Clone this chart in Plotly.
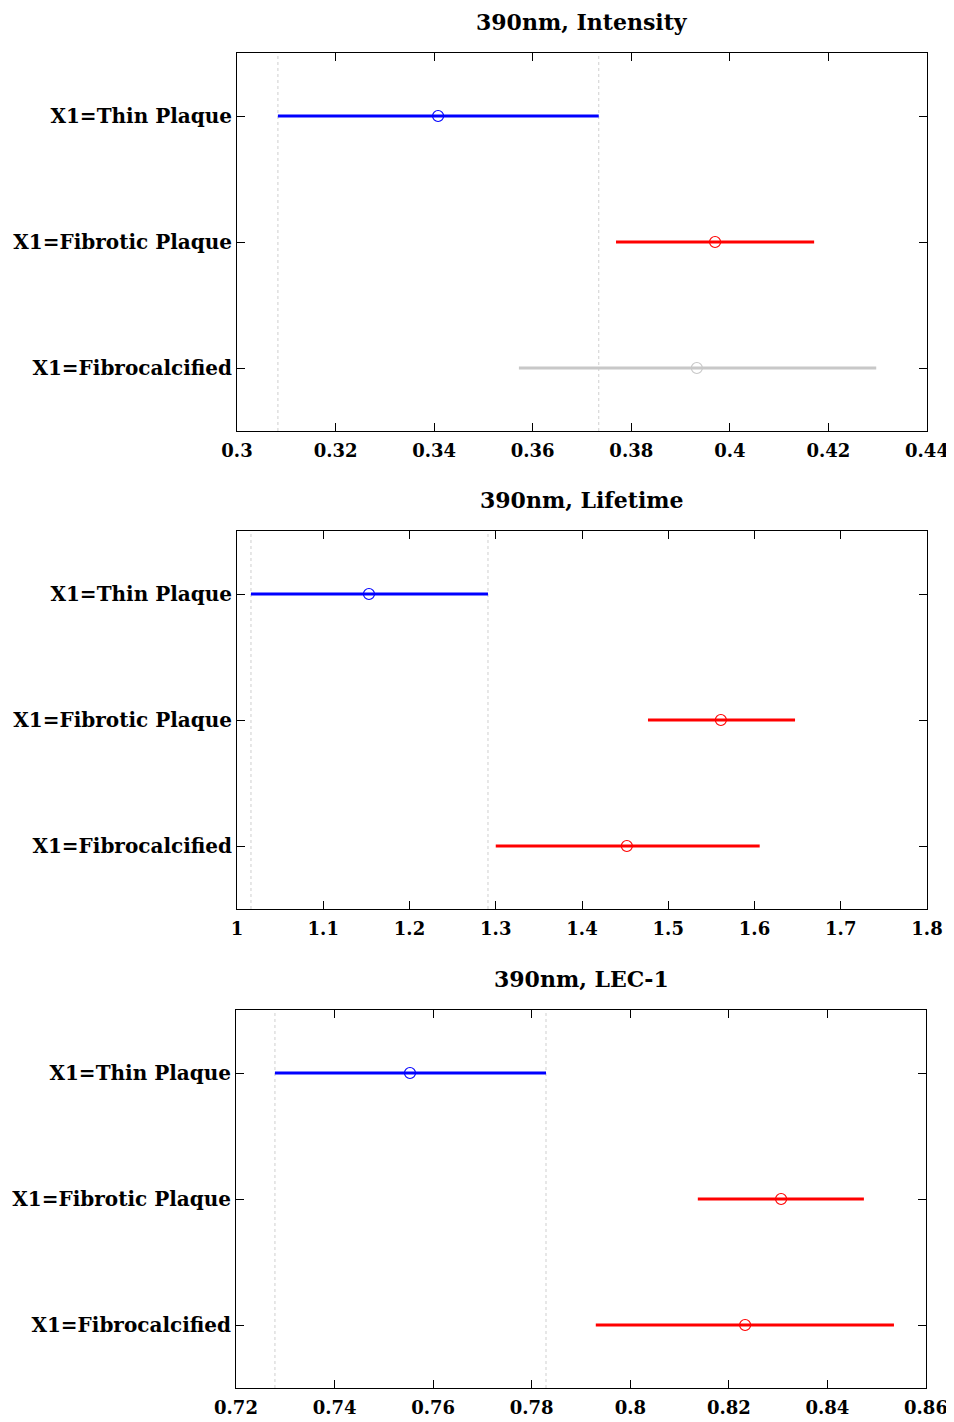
import plotly.graph_objects as go

# ---- data ----
categories = ["X1=Thin Plaque", "X1=Fibrotic Plaque", "X1=Fibrocalcified"]
titles = ["390nm, Intensity", "390nm, Lifetime", "390nm, LEC-1"]

intensity_mean = [0.3408, 0.3970, 0.3933]
intensity_low = [0.3083, 0.3769, 0.3572]
intensity_high = [0.3734, 0.4171, 0.4297]

lifetime_mean = [1.153, 1.561, 1.452]
lifetime_low = [1.0162, 1.4765, 1.300]
lifetime_high = [1.291, 1.647, 1.606]

lec_mean = [0.7553, 0.8306, 0.8233]
lec_low = [0.7279, 0.8137, 0.7930]
lec_high = [0.7829, 0.8474, 0.8535]

colors_intensity = ["#0000FF", "#FF0000", "#C8C8C8"]
colors_lifetime = ["#0000FF", "#FF0000", "#FF0000"]
colors_lec = ["#0000FF", "#FF0000", "#FF0000"]

x_ranges = [[0.3, 0.44], [1.0, 1.8], [0.72, 0.86]]
x_dticks = [0.02, 0.1, 0.02]

panels = [
    (intensity_mean, intensity_low, intensity_high, colors_intensity),
    (lifetime_mean, lifetime_low, lifetime_high, colors_lifetime),
    (lec_mean, lec_low, lec_high, colors_lec),
]

OFF = 8  # page body margin
W, H = 954 - OFF, 1422 - OFF
# pixel layout of plot areas in the page (left, right, top, bottom)
boxes = [(237, 927, 53, 431), (237, 927, 531, 909), (236, 926, 1010, 1388)]

fig = go.Figure()
FONT = "DejaVu Serif, Liberation Serif, serif"

for i, ((mean, low, high, cols), box) in enumerate(zip(panels, boxes)):
    n = i + 1
    xa = "x" if n == 1 else f"x{n}"
    ya = "y" if n == 1 else f"y{n}"
    for j in range(3):
        fig.add_trace(go.Scatter(
            x=[mean[j]], y=[j + 1], mode="markers",
            xaxis=xa, yaxis=ya,
            marker=dict(symbol="circle-open", size=11, color=cols[j], line=dict(width=1.2, color=cols[j])),
            error_x=dict(type="data", symmetric=False,
                         array=[high[j] - mean[j]], arrayminus=[mean[j] - low[j]],
                         color=cols[j], thickness=2.8, width=0),
            showlegend=False, hoverinfo="skip",
        ))
    # dotted reference lines at the first group's interval ends
    for xv in (low[0], high[0]):
        fig.add_shape(type="line", x0=xv, x1=xv, y0=0, y1=1,
                      xref=xa, yref=f"{ya} domain",
                      line=dict(color="#CFCFCF", width=1, dash="dot"), layer="below")
    l, r, t, b = [v - OFF for v in box]
    xd = [l / W, r / W]
    yd = [1 - b / H, 1 - t / H]
    axx = dict(domain=xd, range=x_ranges[i], dtick=x_dticks[i], tick0=x_ranges[i][0],
               showline=True, linecolor="black", linewidth=1, mirror="allticks",
               ticks="inside", ticklen=8, tickcolor="black", showgrid=False, zeroline=False,
               automargin=False, anchor=ya, ticklabelstandoff=3,
               tickfont=dict(family=FONT, size=18, color="black", weight="bold"))
    axy = dict(domain=yd, range=[3.5, 0.5], tickvals=[1, 2, 3], ticktext=categories,
               showline=True, linecolor="black", linewidth=1, mirror="allticks",
               ticks="inside", ticklen=8, tickcolor="black", showgrid=False, zeroline=False,
               automargin=False, anchor=xa,
               tickfont=dict(family=FONT, size=20, color="black", weight="bold"))
    fig.update_layout(**{("xaxis" if n == 1 else f"xaxis{n}"): axx,
                         ("yaxis" if n == 1 else f"yaxis{n}"): axy})
    fig.add_annotation(text=titles[i], x=(xd[0] + xd[1]) / 2, y=1 - (t - 31) / H,
                       xref="paper", yref="paper", showarrow=False,
                       font=dict(family=FONT, size=22, color="black", weight="bold"),
                       xanchor="center", yanchor="middle")

fig.update_layout(width=W, height=H, margin=dict(l=0, r=0, t=0, b=0),
                  paper_bgcolor="white", plot_bgcolor="white")
fig.write_html("out.html")
